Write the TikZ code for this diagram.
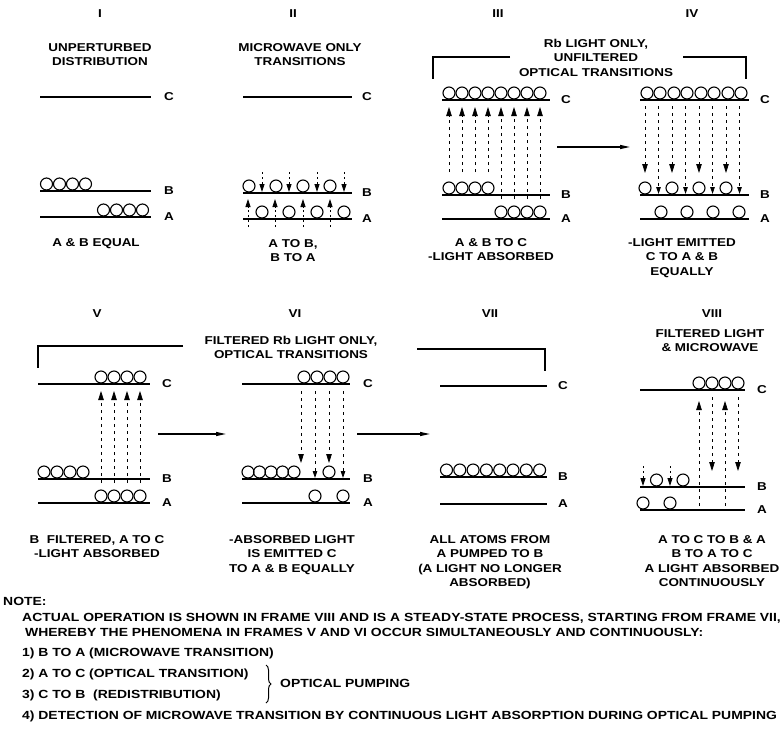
\documentclass[tikz,border=0pt]{standalone}
\usepackage{fontspec}
\setmainfont{Liberation Sans}[FakeStretch=1.18]
\usetikzlibrary{arrows.meta, decorations.pathreplacing}

% one energy level: x from, x to, y, label x, name, letter
\newcommand\level[6]{%
  \draw[lvl] (#1,#3) -- (#2,#3);
  \node[tag] (#5) at (#4,#3) {#6};}
% a row of atoms sitting on a level
\newcommand\atomrow[2]{\foreach \ax in {#2}{\draw[atom] (\ax,#1) circle[radius=6pt];}}

\begin{document}
\begin{tikzpicture}[x=1pt, y=-1pt,
  lvl/.style={line width=1.5pt},
  atom/.style={line width=1.1pt},
  txt/.style={font=\fontsize{11.4}{14.5}\selectfont\bfseries, inner sep=0pt, align=center},
  tag/.style={txt},
  note/.style={font=\fontsize{11.8}{13}\selectfont\bfseries, inner sep=0pt, anchor=base west},
  photon/.style={line width=0.8pt, dash pattern=on 3pt off 4pt, -{Triangle[length=9pt,width=5.5pt]}},
  hop/.style={line width=0.8pt, dash pattern=on 2pt off 3pt, -{Triangle[length=8pt,width=5pt]}},
  flow/.style={line width=1.2pt, -{Triangle[length=10pt,width=4pt]}},
  bracket/.style={line width=1.5pt},
]
\useasboundingbox (0,0) rectangle (784,745);

% ---------------- upper row ----------------
\node[txt] (rI) at (100,14) {I};
\node[txt] (rII) at (293,14) {II};
\node[txt] (rIII) at (498,14) {III};
\node[txt] (rIV) at (692,14) {IV};

\node[txt, anchor=north] (tI) at (100,43) {UNPERTURBED\\DISTRIBUTION};
\node[txt, anchor=north] (tII) at (300,43) {MICROWAVE ONLY\\TRANSITIONS};
\node[txt, anchor=north] (tIII) at (596,39) {Rb LIGHT ONLY,\\UNFILTERED\\OPTICAL TRANSITIONS};
\draw[bracket] (510,57) -- (433,57) -- (433,79);
\draw[bracket] (683,57) -- (746,57) -- (746,79);

% I
\level{40}{151}{97}{169}{IC}{C}
\level{40}{151}{191}{169}{IB}{B}
\level{40}{151}{217}{169}{IA}{A}
\atomrow{184}{46.5,59.5,72.5,85.5}
\atomrow{210}{103.5,116.5,129.5,142.5}
\node[txt, anchor=north] (cI) at (96,238) {A \& B EQUAL};

% II
\level{243}{352}{97}{367}{IIC}{C}
\level{243}{352}{193}{367}{IIB}{B}
\level{243}{352}{219}{367}{IIA}{A}
\atomrow{186}{249,276,303,330}
\atomrow{212}{262,289,317,344}
\foreach \x in {262,289,317,344} \draw[hop] (\x,172) -- (\x,192);
\foreach \x in {248,275,303,330} \draw[hop] (\x,227) -- (\x,199);
\node[txt, anchor=north] (cII) at (293,239) {A TO B,\\B TO A};

% III
\level{442}{550}{100}{566}{IIIC}{C}
\level{442}{550}{195}{566}{IIIB}{B}
\level{442}{550}{219}{566}{IIIA}{A}
\atomrow{93}{449,462,475,488,501,514,527,540}
\atomrow{188}{449,462,475,488}
\atomrow{212}{501,514,527,540}
\foreach \x in {449,462,475,488} \draw[photon] (\x,172) -- (\x,107);
\foreach \x in {501,514,527,540} \draw[photon] (\x,199) -- (\x,107);
\node[txt, anchor=north] (cIII) at (491,238) {A \& B TO C\\-LIGHT ABSORBED};

\coordinate (f34a) at (557,147);
\coordinate (f34b) at (630,147);
\draw[flow] (f34a) -- (f34b);

% IV
\level{640}{749}{100}{765}{IVC}{C}
\level{640}{749}{195}{765}{IVB}{B}
\level{640}{749}{219}{765}{IVA}{A}
\atomrow{93}{647,660,674,687,701,714,728,741}
\atomrow{188}{645,672,699,726}
\atomrow{212}{661,687,713,739}
\foreach \x in {645,672,699,726} \draw[photon] (\x,106) -- (\x,173);
\foreach \x in {658.5,685.5,712.5,739.5}
  \draw[photon, -{Triangle[length=7pt,width=4.5pt]}] (\x,106) -- (\x,194);
\node[txt, anchor=north] (cIV) at (682,238) {-LIGHT EMITTED\\C TO A \& B\\EQUALLY};

% ---------------- lower row ----------------
\node[txt] (rV) at (97,314) {V};
\node[txt] (rVI) at (295,314) {VI};
\node[txt] (rVII) at (490,314) {VII};
\node[txt] (rVIII) at (712,314) {VIII};

\node[txt, anchor=north] (tVI) at (291,336) {FILTERED Rb LIGHT ONLY,\\OPTICAL TRANSITIONS};
\node[txt, anchor=north] (tVIII) at (710,329) {FILTERED LIGHT\\\& MICROWAVE};
\draw[bracket] (183,346) -- (38,346) -- (38,368);
\draw[bracket] (417,349) -- (545,349) -- (545,371);

% V
\level{38}{150}{384}{167}{VC}{C}
\level{38}{150}{479}{167}{VB}{B}
\level{38}{150}{503}{167}{VA}{A}
\atomrow{377}{101,114,127,140}
\atomrow{472}{44,57,70,83}
\atomrow{496}{101,114,127,140}
\foreach \x in {101,114,127,140} \draw[photon] (\x,483) -- (\x,391);
\node[txt, anchor=north] (cV) at (97,535) {B\ \ FILTERED, A TO C\\-LIGHT ABSORBED};

\coordinate (f56a) at (158,434);
\coordinate (f56b) at (226,434);
\draw[flow] (f56a) -- (f56b);

% VI
\level{242}{350}{384}{368}{VIC}{C}
\level{242}{350}{479}{368}{VIB}{B}
\level{242}{350}{503}{368}{VIA}{A}
\atomrow{377}{304,317,330,343}
\atomrow{472}{248,259.5,271,282.5,294,329}
\atomrow{496}{315,343}
\foreach \x in {301,329} \draw[photon] (\x,391) -- (\x,463);
\foreach \x in {315,343}
  \draw[photon, -{Triangle[length=7pt,width=4.5pt]}] (\x,391) -- (\x,478);
\node[txt, anchor=north] (cVI) at (292,535) {-ABSORBED LIGHT\\IS EMITTED C\\TO A \& B EQUALLY};

\coordinate (f67a) at (357,434);
\coordinate (f67b) at (430,434);
\draw[flow] (f67a) -- (f67b);

% VII
\level{440}{547}{386}{563}{VIIC}{C}
\level{440}{547}{477}{563}{VIIB}{B}
\level{440}{547}{504}{563}{VIIA}{A}
\atomrow{470}{446.5,459.8,473.1,486.4,499.7,513,526.3,539.6}
\node[txt, anchor=north] (cVII) at (490,535) {ALL ATOMS FROM\\A PUMPED TO B\\(A LIGHT NO LONGER\\ABSORBED)};

% VIII
\level{640}{745}{390}{762}{VIIIC}{C}
\level{640}{745}{487}{762}{VIIIB}{B}
\level{640}{745}{510}{762}{VIIIA}{A}
\atomrow{383}{699,712,725,738}
\atomrow{480}{656.5,683}
\atomrow{503}{643,670}
\foreach \x in {699,725} \draw[photon] (\x,506) -- (\x,401);
\foreach \x in {712,738} \draw[photon] (\x,397) -- (\x,471);
\foreach \x in {643,670} \draw[hop] (\x,466) -- (\x,486);
\node[txt, anchor=north] (cVIII) at (712,535) {A TO C TO B \& A\\B TO A TO C\\A LIGHT ABSORBED\\CONTINUOUSLY};

% ---------------- note ----------------
\node[note] (n0) at (3,605) {NOTE:};
\node[note] (n1) at (22,621) {ACTUAL OPERATION IS SHOWN IN FRAME VIII AND IS A STEADY-STATE PROCESS, STARTING FROM FRAME VII,};
\node[note] (n2) at (25,636) {WHEREBY THE PHENOMENA IN FRAMES V AND VI OCCUR SIMULTANEOUSLY AND CONTINUOUSLY:};
\node[note] (n3) at (22,656) {1) B TO A (MICROWAVE TRANSITION)};
\node[note] (n4) at (22,677) {2) A TO C (OPTICAL TRANSITION)};
\node[note] (n5) at (22,698) {3) C TO B\ \ (REDISTRIBUTION)};
\coordinate (brtop) at (266,665);
\coordinate (brbot) at (266,703);
\draw[line width=1pt, decorate, decoration={brace, amplitude=5pt}] (brtop) -- (brbot);
\node[note] (n6) at (280,687) {OPTICAL PUMPING};
\node[note] (n7) at (22,719) {4) DETECTION OF MICROWAVE TRANSITION BY CONTINUOUS LIGHT ABSORPTION DURING OPTICAL PUMPING};
\end{tikzpicture}
\end{document}
